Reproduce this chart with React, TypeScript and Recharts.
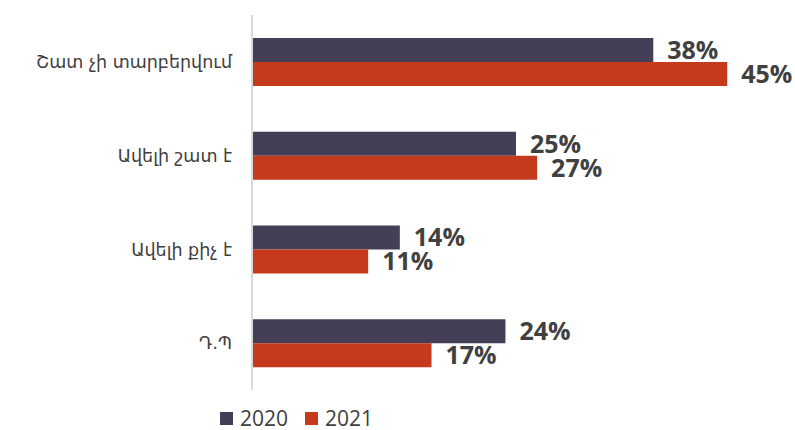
import { Bar, BarChart, LabelList, XAxis, YAxis } from "recharts";

const categories = ["Շատ չի տարբերվում", "Ավելի շատ է", "Ավելի քիչ է", "Դ․Պ"];
const values2020 = [38, 25, 14, 24];
const values2021 = [45, 27, 11, 17];
const seriesNames = ["2020", "2021"];

const COLORS = ["#443F56", "#C5391D"];
const TEXT = "#404040";

const data = categories.map((name, i) => ({
  name,
  y2020: values2020[i],
  y2021: values2021[i],
}));

const pct = (v: unknown) => `${v}%`;

const labelStyle = { fontSize: 25, fontWeight: 700, fill: TEXT, fontFamily: "Open Sans" };

export default function App() {
  return (
    <div style={{ position: "absolute", left: 0, top: 0, width: 795, height: 430, background: "#fff" }}>
      <BarChart
        width={795}
        height={430}
        data={data}
        layout="vertical"
        margin={{ top: 15, right: 15, bottom: 40, left: 0 }}
        barGap={0}
        barSize={24}
      >
        <XAxis type="number" domain={[0, 50]} hide />
        <YAxis
          type="category"
          dataKey="name"
          width={252}
          tickLine={false}
          axisLine={{ stroke: "#D9D9D9", strokeWidth: 2 }}
          tickMargin={14}
          tick={{ fontSize: 17.5, fill: TEXT, fontFamily: "DejaVu Sans" }}
        />
        <Bar dataKey="y2020" name={seriesNames[0]} fill={COLORS[0]} isAnimationActive={false}>
          <LabelList dataKey="y2020" position="right" offset={14} formatter={pct} style={labelStyle} />
        </Bar>
        <Bar dataKey="y2021" name={seriesNames[1]} fill={COLORS[1]} isAnimationActive={false}>
          <LabelList dataKey="y2021" position="right" offset={14} formatter={pct} style={labelStyle} />
        </Bar>
      </BarChart>
      <div
        style={{
          position: "absolute",
          left: 220,
          top: 407,
          display: "flex",
          alignItems: "center",
          fontFamily: "Open Sans",
          fontSize: 21,
          color: TEXT,
          lineHeight: "22px",
        }}
      >
        {seriesNames.map((s, i) => (
          <div key={s} style={{ display: "flex", alignItems: "center", marginRight: 17 }}>
            <span style={{ width: 13, height: 13, background: COLORS[i], marginRight: 7, display: "inline-block" }} />
            <span>{s}</span>
          </div>
        ))}
      </div>
    </div>
  );
}
